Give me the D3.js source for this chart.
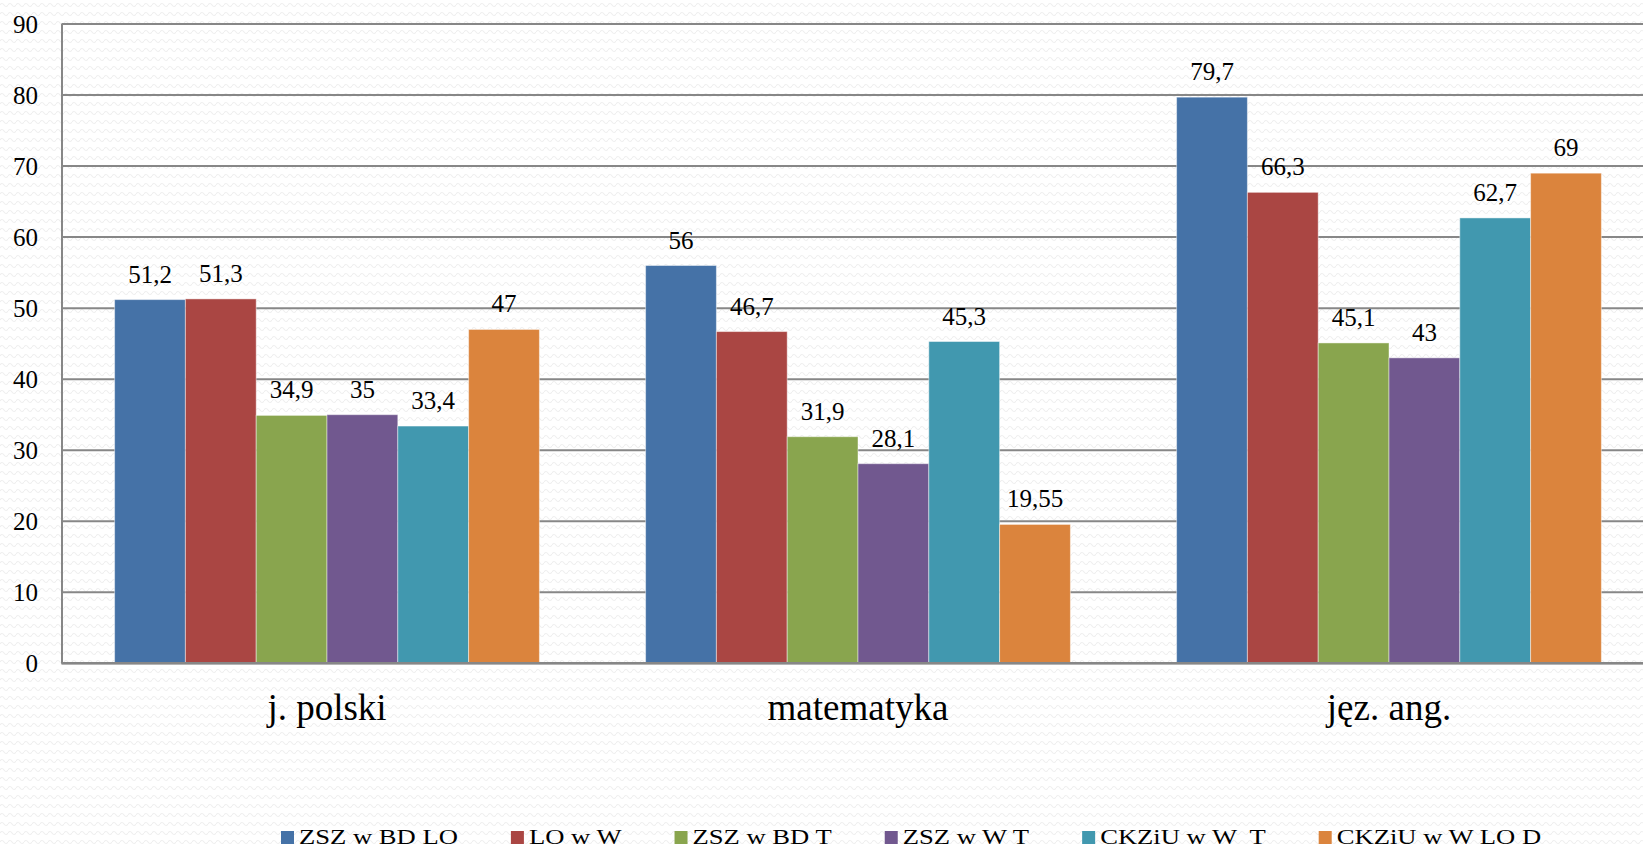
<!DOCTYPE html>
<html>
<head>
<meta charset="utf-8">
<script src="https://cdn.jsdelivr.net/npm/d3@7.9.0/dist/d3.min.js"></script>
<style>
  body { margin: 0; background: #fff; }
  svg { display: block; }
  svg text { font-family: "Liberation Serif", "Times New Roman", serif; fill: #000; }
</style>
</head>
<body>
<svg id="chart" width="1643" height="848"></svg>
<script>
// data
const categories = ['j. polski', 'matematyka', 'jęz. ang.'];
const seriesNames = ['ZSZ w BD LO', 'LO w W', 'ZSZ w BD T', 'ZSZ w W T', 'CKZiU w W  T', 'CKZiU w W LO D'];
const seriesValues = [
  [51.2, 56, 79.7],
  [51.3, 46.7, 66.3],
  [34.9, 31.9, 45.1],
  [35, 28.1, 43],
  [33.4, 45.3, 62.7],
  [47, 19.55, 69]
];
const yTicks = [0, 10, 20, 30, 40, 50, 60, 70, 80, 90];
const colors = ['#4572A7', '#AA4643', '#89A54E', '#71588F', '#4198AF', '#DB843D'];

const svg = d3.select('#chart');
const serif = 'Liberation Serif';

// faint wavy background like the slide texture
let defs = svg.append('defs');
let pat = defs.append('pattern')
  .attr('id', 'waves')
  .attr('patternUnits', 'userSpaceOnUse')
  .attr('width', 8).attr('height', 9);
pat.append('path')
  .attr('d', 'M0,5 Q2,2 4,5 T8,5')
  .attr('fill', 'none')
  .attr('stroke', '#efefef')
  .attr('stroke-width', 1.2);
svg.append('rect').attr('width', 1643).attr('height', 848).attr('fill', 'url(#waves)');

// plot area runs a bit past the right edge of the window
const x0 = d3.scaleBand().domain(categories).range([61.5, 1654.5]);
const x1 = d3.scaleBand().domain(d3.range(seriesNames.length))
  .range([0, x0.bandwidth()])
  .paddingOuter(0.75);
const y = d3.scaleLinear().domain([0, 90]).range([663.3, 24]);

// gridlines
svg.append('g')
  .selectAll('line')
  .data(yTicks)
  .join('line')
  .attr('x1', 61.5).attr('x2', 1654.5)
  .attr('y1', d => y(d)).attr('y2', d => y(d))
  .attr('stroke', '#878787')
  .attr('stroke-width', 2);

// y axis line
svg.append('line')
  .attr('x1', 62).attr('x2', 62)
  .attr('y1', y(90)).attr('y2', y(0))
  .attr('stroke', '#878787')
  .attr('stroke-width', 2);

// y tick labels
svg.append('g')
  .selectAll('text')
  .data(yTicks)
  .join('text')
  .attr('x', 38)
  .attr('y', d => y(d))
  .attr('dy', '0.34em')
  .attr('text-anchor', 'end')
  .attr('font-family', serif)
  .attr('font-size', 25)
  .text(d => d);

// bars
let groups = svg.append('g')
  .selectAll('g')
  .data(categories)
  .join('g')
  .attr('transform', d => `translate(${x0(d)},0)`);

groups.selectAll('rect')
  .data((c, ci) => seriesValues.map((vals, si) => ({ si: si, v: vals[ci] })))
  .join('rect')
  .attr('x', d => x1(d.si))
  .attr('y', d => y(d.v))
  .attr('width', x1.bandwidth())
  .attr('height', d => y(0) - y(d.v))
  .attr('fill', d => colors[d.si])
  .attr('stroke', 'rgba(255,255,255,0.45)')
  .attr('stroke-width', 1);

// value labels, comma decimals
groups.selectAll('text')
  .data((c, ci) => seriesValues.map((vals, si) => ({ si: si, v: vals[ci] })))
  .join('text')
  .attr('x', d => x1(d.si) + x1.bandwidth() / 2)
  .attr('y', d => y(d.v) - 17)
  .attr('text-anchor', 'middle')
  .attr('font-family', serif)
  .attr('font-size', 25)
  .text(d => String(d.v).replace('.', ','));

// x axis line over the bar bottoms
svg.append('line')
  .attr('x1', 61.5).attr('x2', 1654.5)
  .attr('y1', y(0)).attr('y2', y(0))
  .attr('stroke', '#878787')
  .attr('stroke-width', 2.5);

// category labels
svg.append('g')
  .selectAll('text')
  .data(categories)
  .join('text')
  .attr('x', d => x0(d) + x0.bandwidth() / 2)
  .attr('y', 720)
  .attr('text-anchor', 'middle')
  .attr('font-family', serif)
  .attr('font-size', 37)
  .text(d => d);

// legend, laid out left to right (text is stretched wide in the original)
let legend = svg.append('g');
let lx = 281;
const stretch = 1.21;
seriesNames.forEach((name, i) => {
  legend.append('rect')
    .attr('x', lx).attr('y', 831)
    .attr('width', 13).attr('height', 13)
    .attr('fill', colors[i]);
  let t = legend.append('text')
    .attr('transform', `translate(${lx + 18},844) scale(${stretch},1)`)
    .attr('font-family', serif)
    .attr('font-size', 22)
    .style('white-space', 'pre')
    .text(name);
  lx = lx + 18 + t.node().getComputedTextLength() * stretch + 53;
});
</script>
</body>
</html>
